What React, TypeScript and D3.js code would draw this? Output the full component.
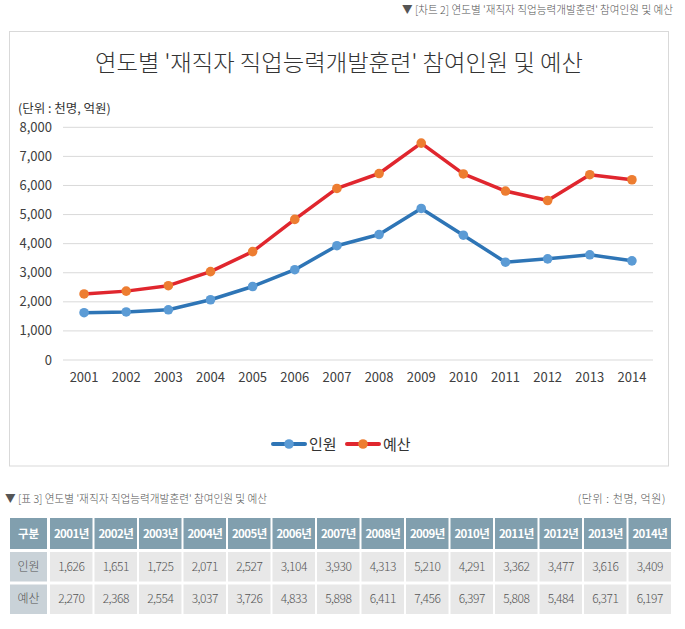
import React from "react";
import * as d3 from "d3";

const years = ["2001","2002","2003","2004","2005","2006","2007","2008","2009","2010","2011","2012","2013","2014"];
const people = [1626,1651,1725,2071,2527,3104,3930,4313,5210,4291,3362,3477,3616,3409];
const budget = [2270,2368,2554,3037,3726,4833,5898,6411,7456,6397,5808,5484,6371,6197];
const yTicks = [0,1000,2000,3000,4000,5000,6000,7000,8000];
const seriesNames = ["인원","예산"];
const rowLabels = ["인원","예산"];

const FONT = "'Noto Sans CJK KR', 'Noto Sans', sans-serif";

export default function App() {
  const W = 685, H = 629;
  const x = d3.scalePoint<string>().domain(years).range([63, 653]).padding(0.5);
  const y = d3.scaleLinear().domain([0, 8000]).range([360, 127.3]);
  const fmt = d3.format(",");
  const line = d3.line<number>().x((_, i) => x(years[i]) as number).y(d => y(d));

  const series = [
    { name: seriesNames[0], data: people, line: "#2e75b6", dot: "#5b9bd5" },
    { name: seriesNames[1], data: budget, line: "#e0262e", dot: "#ed7d31" },
  ];

  const col = d3.scaleBand<string>().domain(years).range([50, 671]).paddingInner(0.045).paddingOuter(0);
  const rows = [
    { y0: 518, h: 31 },
    { y0: 552, h: 29.5 },
    { y0: 584.5, h: 29.5 },
  ];
  const tableData = [people, budget];

  return (
    <svg width={W} height={H} style={{ position: "absolute", left: 0, top: 0, background: "#fff" }} fontFamily={FONT}>
      <rect x={0} y={0} width={W} height={H} fill="#fff" />
      {/* top caption */}
      <text x={673} y={14} textAnchor="end" fontSize={11} fill="#555" fontWeight={300} textLength={271} lengthAdjust="spacingAndGlyphs">
        ▼ [차트 2] 연도별 '재직자 직업능력개발훈련' 참여인원 및 예산
      </text>
      {/* chart box */}
      <rect x={9.5} y={31.5} width={659} height={434.5} fill="#fff" stroke="#d9d9d9" strokeWidth={1} />
      <text x={339} y={71} textAnchor="middle" fontSize={23} fill="#333" fontWeight={300} textLength={488} lengthAdjust="spacingAndGlyphs">
        연도별 '재직자 직업능력개발훈련' 참여인원 및 예산
      </text>
      <text x={18} y={113} fontSize={12.5} fill="#333">(단위 : 천명, 억원)</text>
      {/* grid + y labels */}
      {yTicks.map(t => (
        <g key={t}>
          <line x1={63} x2={653} y1={y(t)} y2={y(t)} stroke="#d9d9d9" strokeWidth={1} />
          <text x={52} y={y(t)} dy="0.35em" textAnchor="end" fontSize={13} fill="#404040">{fmt(t)}</text>
        </g>
      ))}
      {years.map(yr => (
        <text key={yr} x={x(yr)} y={382} textAnchor="middle" fontSize={13} fill="#404040">{yr}</text>
      ))}
      {series.map(s => (
        <g key={s.name}>
          <path d={line(s.data) || ""} fill="none" stroke={s.line} strokeWidth={3.5} strokeLinejoin="round" />
          {s.data.map((v, i) => (
            <circle key={i} cx={x(years[i])} cy={y(v)} r={4.8} fill={s.dot} />
          ))}
        </g>
      ))}
      {/* legend */}
      {series.map((s, i) => {
        const lx = 273 + i * 74;
        return (
          <g key={s.name}>
            <line x1={lx} x2={lx + 32} y1={444} y2={444} stroke={s.line} strokeWidth={4} strokeLinecap="round" />
            <circle cx={lx + 16} cy={444} r={4.8} fill={s.dot} />
            <text x={lx + 36} y={449.5} fontSize={15} fill="#333">{s.name}</text>
          </g>
        );
      })}
      {/* table caption */}
      <text x={5} y={503} fontSize={11} fill="#555" fontWeight={300} textLength={262} lengthAdjust="spacingAndGlyphs">
        ▼ [표 3] 연도별 '재직자 직업능력개발훈련' 참여인원 및 예산
      </text>
      <text x={666} y={503} textAnchor="end" fontSize={11} fill="#555" fontWeight={300} letterSpacing={0.6}>(단위 : 천명, 억원)</text>
      {/* table */}
      <rect x={10} y={rows[0].y0} width={37} height={rows[0].h} fill="#819fae" />
      <text x={28.5} y={rows[0].y0 + rows[0].h / 2} dy="0.35em" textAnchor="middle" fontSize={11.5} fontWeight="bold" fill="#fff">구분</text>
      {years.map(yr => (
        <g key={yr}>
          <rect x={col(yr)} y={rows[0].y0} width={col.bandwidth()} height={rows[0].h} fill="#819fae" />
          <text x={(col(yr) as number) + col.bandwidth() / 2} y={rows[0].y0 + rows[0].h / 2} dy="0.35em" textAnchor="middle"
            fontSize={11.5} fontWeight="bold" fill="#fff" letterSpacing={-0.6}>{yr}년</text>
        </g>
      ))}
      {tableData.map((vals, r) => {
        const row = rows[r + 1];
        return (
          <g key={r}>
            <rect x={10} y={row.y0} width={37} height={row.h} fill="#c9d2d8" />
            <text x={28.5} y={row.y0 + row.h / 2} dy="0.35em" textAnchor="middle" fontSize={12} fill="#555" fontWeight={300}>{rowLabels[r]}</text>
            {years.map((yr, i) => (
              <g key={yr}>
                <rect x={col(yr)} y={row.y0} width={col.bandwidth()} height={row.h} fill="#e8e8e8" />
                <text x={(col(yr) as number) + col.bandwidth() / 2} y={row.y0 + row.h / 2} dy="0.35em" textAnchor="middle"
                  fontSize={12} fill="#555" fontWeight={300} letterSpacing={-0.5}>{fmt(vals[i])}</text>
              </g>
            ))}
          </g>
        );
      })}
    </svg>
  );
}
